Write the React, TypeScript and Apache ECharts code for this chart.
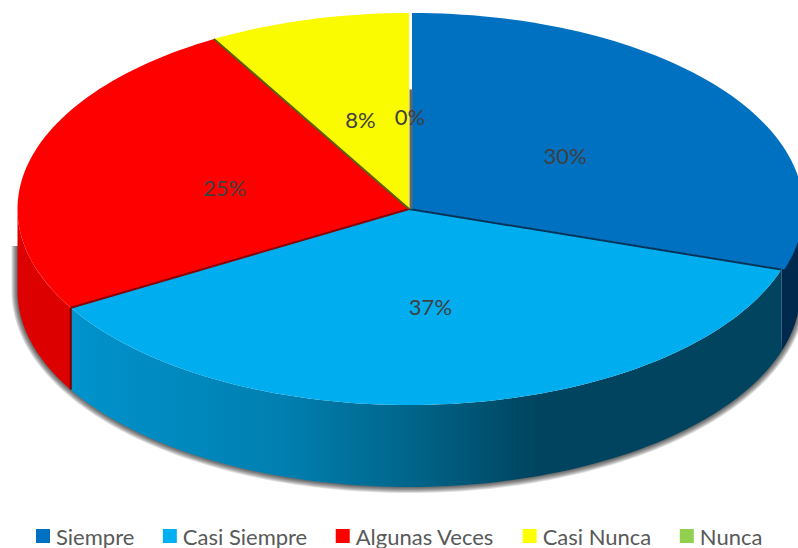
import React, { useEffect, useRef } from "react";
import * as echarts from "echarts";

const categories = ["Siempre", "Casi Siempre", "Algunas Veces", "Casi Nunca", "Nunca"];
const values = [30, 36.6, 25.1, 8.3, 0];
const topColors = ["#0070C0", "#00AEEF", "#FF0000", "#FAFA00", "#92D050"];
const legendColors = ["#0070C0", "#00B0F0", "#FF0000", "#FFFF00", "#92D050"];
const edgeColors = ["#00345a", "#00345a", "#8a0000", "#5e5e00", "#666666"];
const edgeReach = [0, 1, 1, 1, 0.61];
const sliceShiftX = [3, 0, 0, 0, 2];
const shadowLayers = [12, 10, 8, 6, 4, 2];

const CX = 409;
const CY = 209;
const RX = 391.5;
const RY = 196;
const DEPTH = 82;
const total = values.reduce((a, b) => a + b, 0);
const toRad = (d: number) => (d * Math.PI) / 180;
const at = (deg: number, dx = 0, dy = 0, f = 1): [number, number] => [
  CX + dx + Math.sin(toRad(deg)) * RX * f,
  CY + dy - Math.cos(toRad(deg)) * RY * f,
];

const arcPoints = (a0: number, a1: number, dx = 0, dy = 0) => {
  const pts: [number, number][] = [];
  const n = Math.max(2, Math.ceil((a1 - a0) / 1.5));
  for (let i = 0; i <= n; i++) pts.push(at(a0 + ((a1 - a0) * i) / n, dx, dy));
  return pts;
};

const wallFill = (i: number): any => {
  if (i === 0) return "#00294d";
  if (i === 2) return "#dc0000";
  return {
    type: "linear",
    x: 72,
    y: 0,
    x2: 778,
    y2: 0,
    global: true,
    colorStops: [
      { offset: 0, color: "#0093cc" },
      { offset: 0.3, color: "#007fb0" },
      { offset: 0.48, color: "#00658a" },
      { offset: 0.66, color: "#00445f" },
      { offset: 1, color: "#00445f" },
    ],
  };
};

const makeRender = (i: number) => () => {
  const before = values.slice(0, i).reduce((a, b) => a + b, 0);
  const a0 = (before / total) * 360;
  const a1 = ((before + values[i]) / total) * 360;
  const dx = sliceShiftX[i];
  const children: any[] = [];

  if (i === 0) {
    const base = arcPoints(92, 270, 0, DEPTH);
    const last = base[base.length - 1];
    const outline = [...base, [last[0], last[1] - DEPTH * 0.55]];
    shadowLayers.forEach((w) => {
      children.push({
        type: "polyline",
        z2: 0,
        shape: { points: outline },
        style: { stroke: "rgba(0,0,0,0.13)", lineWidth: w, fill: "none" },
      });
    });
  }

  const w0 = Math.max(a0, 90);
  const w1 = Math.min(a1, 270);
  if (w1 > w0) {
    const topArc = arcPoints(w0, w1, 0, 0);
    const botArc = arcPoints(w0, w1, 0, DEPTH).reverse();
    children.push({
      type: "polygon",
      z2: 2,
      shape: { points: [...topArc, ...botArc] },
      style: { fill: wallFill(i) },
    });
    if (i === 1) {
      const s = at(a1, 0, 0);
      children.push({
        type: "line",
        z2: 3,
        shape: { x1: s[0], y1: s[1], x2: s[0], y2: s[1] + DEPTH },
        style: { stroke: "#7a0000", lineWidth: 2 },
      });
    }
  }

  if (a1 > a0) {
    children.push({
      type: "polygon",
      z2: 4,
      shape: { points: [[CX + dx, CY], ...arcPoints(a0, a1, dx, 0)] },
      style: { fill: topColors[i] },
    });
  }

  if (edgeReach[i] > 0) {
    const e = at(a0, dx, 0, edgeReach[i]);
    children.push({
      type: "line",
      z2: 5,
      shape: { x1: CX + dx, y1: CY, x2: e[0], y2: e[1] },
      style: { stroke: edgeColors[i], lineWidth: i === 4 ? 3 : 2 },
    });
  }

  const mid = (a0 + a1) / 2;
  const lx = CX + 1 + Math.sin(toRad(mid)) * RX * 0.49;
  const ly = 212 - Math.cos(toRad(mid)) * RY * 0.487;
  children.push({
    type: "text",
    z2: 10,
    style: {
      text: `${Math.round((values[i] / total) * 100)}%`,
      x: lx,
      y: ly,
      align: "center",
      verticalAlign: "middle",
      fill: "#404040",
      fontFamily: "Lato",
      fontSize: 22,
    },
  });

  return { type: "group", children };
};

export default function App() {
  const ref = useRef<HTMLDivElement>(null);
  useEffect(() => {
    const chart = echarts.init(ref.current!, null, { renderer: "svg" });
    chart.setOption({
      animation: false,
      backgroundColor: "#ffffff",
      legend: {
        left: 36,
        top: 525,
        icon: "rect",
        itemWidth: 14,
        itemHeight: 14,
        itemGap: 28.5,
        padding: 0,
        selectedMode: false,
        data: categories,
        textStyle: {
          color: "#595959",
          fontFamily: "Lato",
          fontSize: 22,
          padding: [0, 0, 0, 1],
        },
      },
      series: categories.map((name, i) => ({
        name,
        type: "custom",
        coordinateSystem: "none",
        silent: true,
        itemStyle: { color: legendColors[i] },
        data: [values[i]],
        renderItem: makeRender(i),
      })),
    });
    return () => chart.dispose();
  }, []);
  return (
    <div
      ref={ref}
      style={{ position: "fixed", left: 0, top: 0, width: 798, height: 548 }}
    />
  );
}
